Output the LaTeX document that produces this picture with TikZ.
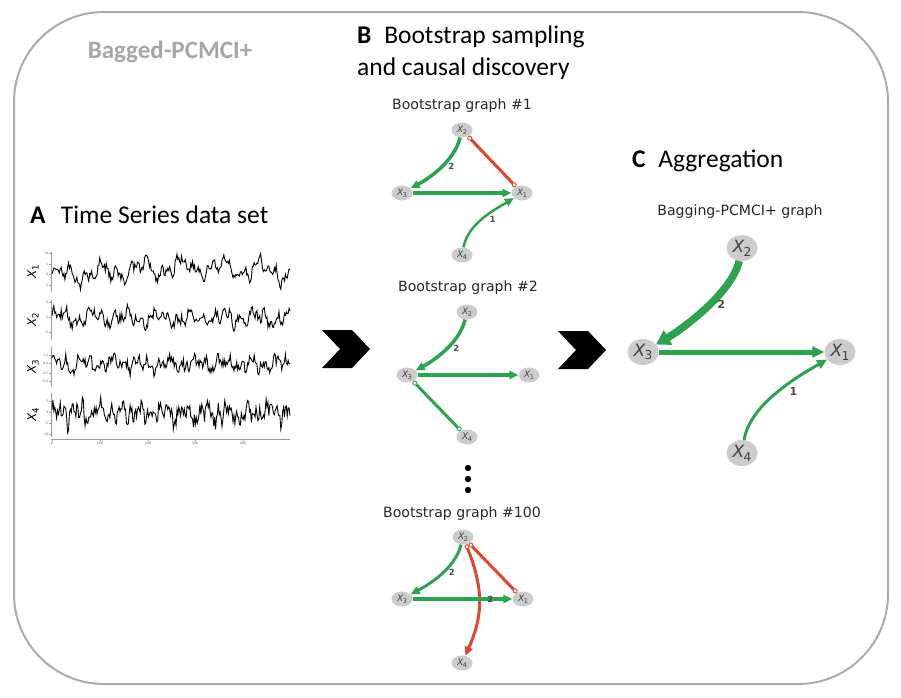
\documentclass[tikz,border=0pt]{standalone}
\usepackage{fontspec}
\setmainfont{Carlito}
\newfontfamily\djv{DejaVu Sans}
\usetikzlibrary{shapes.geometric, arrows.meta}
\definecolor{boxgray}{HTML}{ABABAB}
\definecolor{titlegray}{HTML}{A6A6A6}
\definecolor{nodegray}{HTML}{CCCCCC}
\definecolor{edgegreen}{HTML}{2FA24F}
\definecolor{edgered}{HTML}{E0452F}
\definecolor{axisgray}{HTML}{9A9A9A}
\newcommand{\vx}[1]{{\itshape X}\kern-0.04em\raisebox{-0.22em}{\scalebox{0.72}{#1}}}

\begin{document}
\begin{tikzpicture}[
  x=1pt, y=-1pt,
  ocirc/.tip={Circle[fill=white, length=5pt, line width=0.9pt]},
  vnode/.style={ellipse, fill=nodegray, minimum width=21, minimum height=15, inner sep=0,
                font=\djv\fontsize{9}{9}\selectfont, text=black!75},
  bignode/.style={vnode, minimum width=31, minimum height=26, font=\djv\fontsize{17}{17}\selectfont},
  gedge/.style={draw=edgegreen, line width=#1, -{Triangle[length=9pt, width=8pt]}},
  gedge/.default=3,
  redge/.style={draw=edgered, line width=3},
  elabel/.style={font=\djv\bfseries\fontsize{8.5}{8.5}\selectfont, text=black!70, inner sep=1},
  gtitle/.style={font=\djv\fontsize{14.1}{14.1}\selectfont, text=black!85},
  head/.style={font=\fontsize{25.5}{32}\selectfont, anchor=west, align=left, inner sep=0},
  series/.style={line width=0.9, black},
  axisline/.style={line width=0.4, axisgray},
  ticklab/.style={font=\djv\fontsize{3.2}{3.2}\selectfont, text=black!60, inner sep=0.6},
  serlab/.style={font=\djv\fontsize{12}{12}\selectfont, rotate=90, inner sep=0}
]
\useasboundingbox (0,0) rectangle (901,697);
\fill[white] (0,0) rectangle (901,697);

% outer frame and titles
\draw[boxgray, line width=2, rounded corners=90] (14,12) rectangle (888,684);
\node[font=\bfseries\fontsize{25}{25}\selectfont, text=titlegray] (bagged) at (170,52) {Bagged-PCMCI+};
\node[head] (ttlA) at (30,215) {\textbf{A}\hspace{0.6em}Time Series data set};
\node[head] (ttlB) at (357,53) {\textbf{B}\hspace{0.5em}Bootstrap sampling\\and causal discovery};
\node[head] (ttlC) at (632,161) {\textbf{C}\hspace{0.5em}Aggregation};

% A: time series panels
\foreach \ytop/\ybot in {252/292, 300/340, 347/387, 393/437}
  \draw[axisline] (51,\ytop) -- (51,\ybot);
\draw[axisline] (51,439) -- (290,439);
\foreach \xx/\lab in {52/0, 100/100, 148/200, 195/300, 243/400} {
  \draw[axisline] (\xx,439) -- (\xx,441);
  \node[ticklab, below] (tx\xx) at (\xx,441) {\lab};
}
\foreach \yy/\lab in {253/10, 264/5, 274/0, 285/-5, 302/5, 317/0, 332/-5,
                      355/2.5, 363/0.0, 373/-2.5, 381/-5.0, 401/5, 412/0, 423/-5, 434/-10} {
  \draw[axisline] (49,\yy) -- (51,\yy);
  \node[ticklab, left] (ty\yy) at (49,\yy) {\lab};
}
\node[serlab] (s1) at (33,272) {\vx{1}};
\node[serlab] (s2) at (33,320) {\vx{2}};
\node[serlab] (s3) at (33,367) {\vx{3}};
\node[serlab] (s4) at (33,415) {\vx{4}};

\pgfmathsetseed{11}
\draw[series] plot[domain=0:238, samples=260]
  ({\x+52}, {273 - 2.1*(2.6*sin(0.9*\x-40) + 3*sin(9*\x) + 2.4*sin(23*\x+30) + 1.6*sin(47*\x) + 2*rand)});
\draw[series] plot[domain=0:238, samples=260]
  ({\x+52}, {318 - 3*(1.4*sin(11*\x) + 1.4*sin(29*\x+50) + 1*sin(53*\x) + 1.6*rand)});
\draw[series] plot[domain=0:238, samples=260]
  ({\x+52}, {364 - 3.3*(1*sin(13*\x+20) + 1.2*sin(31*\x) + 0.8*sin(59*\x) + 1.5*rand)});
\draw[series] plot[domain=0:238, samples=260]
  ({\x+52}, {413 - 2.2*(2.2*sin(17*\x) + 2.2*sin(37*\x+60) + 1.6*sin(61*\x) + 3.4*rand)});

% chevrons
\fill (322,330) -- (352,330) -- (370,349) -- (352,368) -- (322,368) -- (340,349) -- cycle;
\fill (558,331) -- (588,331) -- (606,350) -- (588,369) -- (558,369) -- (576,350) -- cycle;

% B: bootstrap graph #1
\node[gtitle] (g1) at (462,106) {Bootstrap graph \#1};
\node[vnode] (b1x2) at (462,130) {\vx{2}};
\node[vnode] (b1x3) at (402,193) {\vx{3}};
\node[vnode] (b1x1) at (522,193) {\vx{1}};
\node[vnode] (b1x4) at (462,255) {\vx{4}};
\draw[gedge=3.5] (b1x2) .. controls +(-8,32) and +(26,-14) .. node[elabel, pos=0.45, xshift=9] {2} (b1x3);
\draw[gedge=4.5] (b1x3) -- (b1x1);
\draw[gedge=2.5] (b1x4) .. controls +(6,-32) and +(-26,16) .. node[elabel, pos=0.55, xshift=6, yshift=-4] {1} (b1x1);
\draw[redge, {ocirc}-{ocirc}] (b1x2) -- (b1x1);

% B: bootstrap graph #2
\node[gtitle] (g2) at (468,288) {Bootstrap graph \#2};
\node[vnode] (b2x2) at (467,312) {\vx{2}};
\node[vnode] (b2x3) at (407,375) {\vx{3}};
\node[vnode] (b2x1) at (529,375) {\vx{1}};
\node[vnode] (b2x4) at (467,437) {\vx{4}};
\draw[gedge=3.5] (b2x2) .. controls +(-8,32) and +(26,-14) .. node[elabel, pos=0.45, xshift=9] {2} (b2x3);
\draw[gedge=4.5] (b2x3) -- (b2x1);
\draw[draw=edgegreen, line width=3, {ocirc}-{ocirc}] (b2x3) -- (b2x4);

% dots between graphs
\foreach \yy in {468, 479, 490}
  \fill (468,\yy) circle (3.2);

% B: bootstrap graph #100
\node[gtitle] (g100) at (462,514) {Bootstrap graph \#100};
\node[vnode] (b3x2) at (463,537) {\vx{2}};
\node[vnode] (b3x3) at (402,599) {\vx{3}};
\node[vnode] (b3x1) at (523,599) {\vx{1}};
\node[vnode] (b3x4) at (462,663) {\vx{4}};
\draw[gedge=3] (b3x2) .. controls +(-8,32) and +(26,-14) .. node[elabel, pos=0.45, xshift=9] {2} (b3x3);
\draw[redge, {ocirc}-{ocirc}] (b3x2) -- (b3x1);
\draw[redge, {ocirc}-{Triangle[length=9pt, width=8pt]}] (b3x2) .. controls +(22,55) and +(20,-45) .. (b3x4);
\draw[gedge=3.5] (b3x3) -- node[elabel, pos=0.78] {2} (b3x1);

% C: aggregated graph
\node[gtitle] (gagg) at (740,212) {Bagging-PCMCI+ graph};
\node[bignode] (cx2) at (742,248) {\vx{2}};
\node[bignode] (cx3) at (643,352) {\vx{3}};
\node[bignode] (cx1) at (840,352) {\vx{1}};
\node[bignode] (cx4) at (742,453) {\vx{4}};
\draw[draw=edgegreen, line width=7.5, -{Triangle[length=14pt, width=16pt]}] (cx2) .. controls +(-10,45) and +(38,-22) .. node[elabel, font=\djv\bfseries\fontsize{11}{11}\selectfont, pos=0.45, xshift=12] {2} (cx3);
\draw[draw=edgegreen, line width=5, -{Triangle[length=12pt, width=11pt]}] (cx3) -- (cx1);
\draw[draw=edgegreen, line width=3, -{Triangle[length=10pt, width=9pt]}] (cx4) .. controls +(8,-50) and +(-38,22) .. node[elabel, font=\djv\bfseries\fontsize{11}{11}\selectfont, pos=0.55, xshift=10, yshift=-4] {1} (cx1);
\end{tikzpicture}
\end{document}
